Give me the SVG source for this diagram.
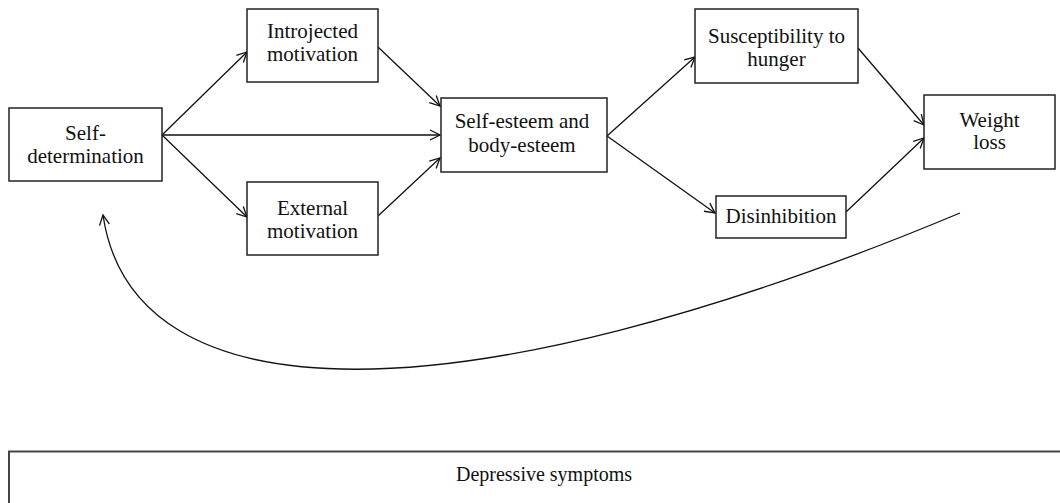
<svg xmlns="http://www.w3.org/2000/svg" width="1060" height="503" viewBox="0 0 1060 503">
<style>
  .box { fill: #fff; stroke: #222; stroke-width: 1.5; }
  .lbl { font-family: "Liberation Serif", "Times New Roman", serif; font-size: 21px; fill: #111; text-anchor: middle; }
  .con { fill: none; stroke: #111; stroke-width: 1.3; }
</style>
<defs>
  <marker id="arr" markerUnits="userSpaceOnUse" markerWidth="14" markerHeight="14" viewBox="-12 -7 14 14" refX="0" refY="0" orient="auto">
    <path d="M-10,-5 L0,0 L-10,5" fill="none" stroke="#111" stroke-width="1.3"/>
  </marker>
</defs>
<rect width="1060" height="503" fill="#fff"/>
<g id="connectors">
  <line class="con" x1="162" y1="135" x2="247" y2="52" marker-end="url(#arr)"/>
  <line class="con" x1="162" y1="135" x2="440" y2="135" marker-end="url(#arr)"/>
  <line class="con" x1="162" y1="135" x2="247" y2="217" marker-end="url(#arr)"/>
  <line class="con" x1="378" y1="47" x2="440" y2="106" marker-end="url(#arr)"/>
  <line class="con" x1="378" y1="216" x2="440" y2="158" marker-end="url(#arr)"/>
  <line class="con" x1="607" y1="136" x2="695" y2="57" marker-end="url(#arr)"/>
  <line class="con" x1="607" y1="136" x2="715" y2="213" marker-end="url(#arr)"/>
  <line class="con" x1="858" y1="48" x2="924" y2="125" marker-end="url(#arr)"/>
  <line class="con" x1="846" y1="212" x2="924" y2="138" marker-end="url(#arr)"/>
  <path class="con" d="M960,213 C460,422 133,420 103,215" marker-end="url(#arr)"/>
</g>
<g id="self-determination">
  <rect class="box" x="9" y="108" width="153" height="73"/>
  <text class="lbl" x="85.5" y="140">Self-</text>
  <text class="lbl" x="85.5" y="163">determination</text>
</g>
<g id="introjected">
  <rect class="box" x="247" y="9" width="131" height="73"/>
  <text class="lbl" x="312.5" y="38">Introjected</text>
  <text class="lbl" x="312.5" y="61">motivation</text>
</g>
<g id="external">
  <rect class="box" x="247" y="182" width="131" height="73"/>
  <text class="lbl" x="312.5" y="215">External</text>
  <text class="lbl" x="312.5" y="238">motivation</text>
</g>
<g id="self-esteem">
  <rect class="box" x="441" y="98" width="166" height="74"/>
  <text class="lbl" x="522" y="128">Self-esteem and</text>
  <text class="lbl" x="522" y="152">body-esteem</text>
</g>
<g id="susceptibility">
  <rect class="box" x="695" y="9" width="163" height="74"/>
  <text class="lbl" x="776.5" y="43">Susceptibility to</text>
  <text class="lbl" x="776.5" y="66">hunger</text>
</g>
<g id="disinhibition">
  <rect class="box" x="716" y="196" width="130" height="42"/>
  <text class="lbl" x="781" y="223">Disinhibition</text>
</g>
<g id="weight-loss">
  <rect class="box" x="924" y="95" width="131" height="74"/>
  <text class="lbl" x="989.5" y="127">Weight</text>
  <text class="lbl" x="989.5" y="149">loss</text>
</g>
<g id="depressive-symptoms">
  <rect x="9" y="451.5" width="1100" height="100" fill="#fff" stroke="#444" stroke-width="2"/>
  <text class="lbl" x="544" y="481" style="font-size:20px">Depressive symptoms</text>
</g>
</svg>
